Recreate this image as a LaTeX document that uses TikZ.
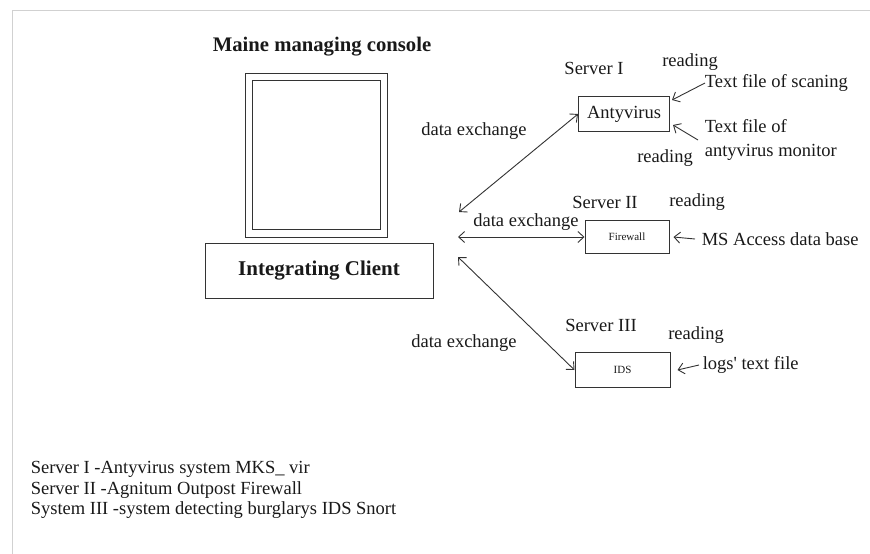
\documentclass[tikz,border=0pt]{standalone}
\usepackage{fontspec}
\setmainfont{Liberation Serif}
\usetikzlibrary{arrows.meta,positioning}
\tikzset{
	diagram/.style={
		x=1pt, y=-1pt,
		line width=0.9pt, draw=black!80, text=black!90,
		font=\fontsize{18.5}{23}\selectfont},
	box/.style={draw, rectangle, line width=1pt, inner sep=0pt, minimum height=35pt},
	small/.style={font=\fontsize{11}{13}\selectfont},
	heading/.style={font=\bfseries\fontsize{20.7}{24}\selectfont},
	ar/.style={-{Straight Barb[length=6pt,width=11pt]}},
	ar2/.style={{Straight Barb[length=6pt,width=11pt]}-{Straight Barb[length=6pt,width=11pt]}}
}

\begin{document}
\begin{tikzpicture}[diagram]
   \useasboundingbox (0,0) rectangle (870,554);
   \draw[black!18] (870,10) -- (12,10) -- (12,554);
   % console and client
   \node[heading] (title) at (322,47) {Maine managing console};
   \node[box, minimum width=142pt, minimum height=164pt] (screen) at (316,155) {};
   \node[box, minimum width=128pt, minimum height=149pt] (screenin) at (screen) {};
   \node[box, minimum width=228pt, minimum height=55pt, heading, font=\bfseries\fontsize{21}{24}\selectfont] (client) at (319,271) {Integrating Client};
   % servers
   \node[box, minimum width=91pt] (av) at (624,114) {Antyvirus};
   \node[box, minimum width=84pt, minimum height=33pt, small] (fw) at (627,237) {Firewall};
   \node[box, minimum width=95pt, small] (ids) at (622.5,370) {IDS};
   \coordinate (cl1) at (459,212);
   \coordinate (cl2) at (458,237);
   \coordinate (cl3) at (458,257);
   \draw[ar2] (cl1) -- (av.west);
   \draw[ar2] (cl2) -- (fw.west);
   \draw[ar2] (cl3) -- (ids.west);
   % labels
   \node (av_name) at (594,68) {Server I};
   \node (fw_name) at (605,202) {Server II};
   \node (ids_name) at (601,325) {Server III};
   \node (dx1) at (474,131) {data exchange};
   \node (dx2) at (526,222) {data exchange};
   \node (dx3) at (464,343) {data exchange};
   \node (rd1) at (690,62) {reading};
   \node (rd2) at (665,158) {reading};
   \node (rd3) at (697,202) {reading};
   \node (rd4) at (696,335) {reading};
   % files read by the servers
   \node[anchor=west] (scan) at (701,83) {Text file of scaning};
   \node[anchor=west, align=left, font=\fontsize{18.5}{24}\selectfont] (monitor) at (701,140) {Text file of\\antyvirus monitor};
   \node[anchor=west] (access) at (698,239) {MS Access data base};
   \node[anchor=west] (logs) at (699,365) {logs\textquotesingle{} text file};
   \draw[ar] ([xshift=4pt]scan.west) -- ([shift={(2,4)}]av.north east);
   \draw[ar] ([xshift=-3pt]monitor.west) -- ([shift={(3,-7)}]av.south east);
   \draw[ar] ([xshift=-3pt]access.west) -- ([xshift=4pt]fw.east);
   \draw[ar] (logs.west) -- ([xshift=7pt]ids.east);
   % legend
   \node[anchor=west, align=left, font=\fontsize{18.5}{20.5}\selectfont] (legend) at (27,490) {Server I -Antyvirus system MKS\_ vir\\Server II -Agnitum Outpost Firewall\\System III -system detecting burglarys IDS Snort};
\end{tikzpicture}
\end{document}
